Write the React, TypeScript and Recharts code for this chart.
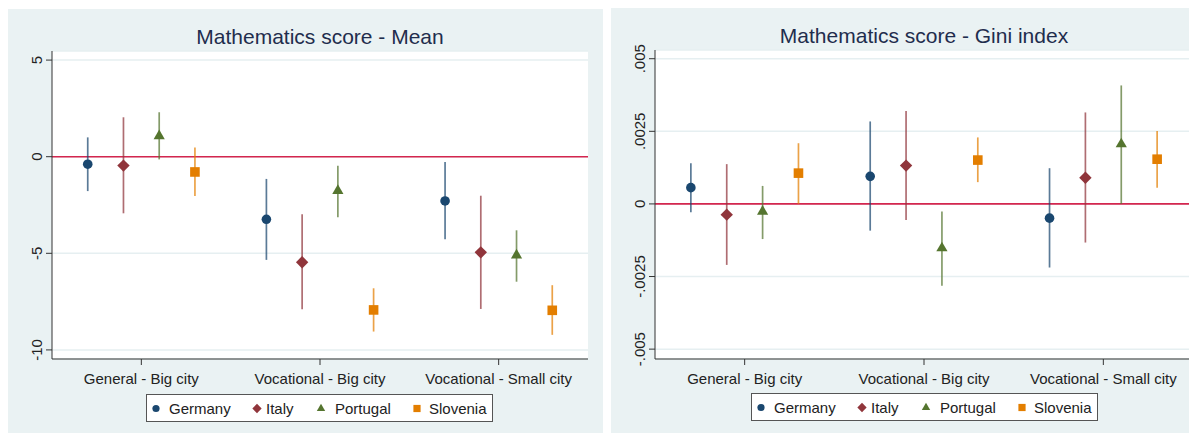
import React from 'react';
import {
  ScatterChart,
  Scatter,
  XAxis,
  YAxis,
  CartesianGrid,
  ReferenceLine,
  ErrorBar,
} from 'recharts';

const categories = ['General - Big city', 'Vocational - Big city', 'Vocational - Small city'];
const countries = ['Germany', 'Italy', 'Portugal', 'Slovenia'];
const colors = ['#1a476f', '#90353b', '#55752f', '#e37e00'];
const shapes = ['circle', 'diamond', 'triangle', 'square'];

// Mathematics score - Mean (point estimate, lower CI, upper CI), per country, per category
const meanEst = [
  [-0.39, -3.24, -2.29],
  [-0.46, -5.46, -4.95],
  [1.07, -1.76, -5.1],
  [-0.79, -7.93, -7.95],
];
const meanLo = [
  [-1.78, -5.34, -4.27],
  [-2.93, -7.9, -7.88],
  [-0.14, -3.14, -6.47],
  [-2.03, -9.05, -9.22],
];
const meanHi = [
  [1.0, -1.15, -0.27],
  [2.04, -2.98, -2.02],
  [2.3, -0.47, -3.81],
  [0.48, -6.81, -6.65],
];
const meanTicks = [-10, -5, 0, 5];

// Mathematics score - Gini index
const giniEst = [
  [0.00056, 0.00095, -0.00049],
  [-0.00037, 0.00132, 0.0009],
  [-0.00026, -0.00152, 0.00206],
  [0.00106, 0.00151, 0.00154],
];
const giniLo = [
  [-0.00029, -0.00092, -0.00219],
  [-0.0021, -0.00055, -0.00133],
  [-0.00121, -0.00282, 0.0],
  [0.0, 0.00075, 0.00056],
];
const giniHi = [
  [0.0014, 0.00284, 0.00123],
  [0.00137, 0.0032, 0.00315],
  [0.00062, -0.00026, 0.00408],
  [0.00209, 0.00229, 0.00251],
];
const giniTicks = [-0.005, -0.0025, 0, 0.0025, 0.005];

const FONT = '"Liberation Sans", Arial, sans-serif';
const BG = '#eaf2f3';
const DODGE = [-0.3, -0.1, 0.1, 0.3];

const Marker = ({ kind, cx, cy, color, s = 1 }: any) => {
  if (kind === 'circle') return <circle cx={cx} cy={cy} r={4.8 * s} fill={color} />;
  if (kind === 'diamond') {
    const d = 6.2 * s;
    return <path d={`M${cx},${cy - d}L${cx + d},${cy}L${cx},${cy + d}L${cx - d},${cy}Z`} fill={color} />;
  }
  if (kind === 'triangle') {
    const h = 6.4 * s;
    const w = 5.6 * s;
    return <path d={`M${cx},${cy - h}L${cx + w},${cy + h / 2}L${cx - w},${cy + h / 2}Z`} fill={color} />;
  }
  const q = 4.8 * s;
  return <rect x={cx - q} y={cy - q} width={2 * q} height={2 * q} fill={color} />;
};

const stataFmt = (v: number) => {
  if (v === 0) return '0';
  return String(v).replace('0.', '.');
};

const LegendBox = ({ left, top }: { left: number; top: number }) => {
  const markerX = [9, 110, 174, 270];
  const textX = [22, 119, 188, 282];
  return (
    <div
      style={{
        position: 'absolute',
        left,
        top,
        width: 345,
        height: 26,
        border: '1px solid #555',
        background: '#fff',
      }}
    >
      <svg width={345} height={26} style={{ display: 'block', fontFamily: FONT }}>
        {countries.map((c, k) => (
          <g key={c}>
            <Marker kind={shapes[k]} cx={markerX[k]} cy={13.5} color={colors[k]} s={0.75} />
            <text x={textX[k]} y={18.5} fontSize={15} fill="#222">
              {c}
            </text>
          </g>
        ))}
      </svg>
    </div>
  );
};

interface PanelProps {
  title: string;
  est: number[][];
  lo: number[][];
  hi: number[][];
  domain: number[];
  ticks: number[];
  left: number;
  top: number;
  width: number;
  height: number;
  rightPad: number;
  legendLeft: number;
}

const Panel = ({ title, est, lo, hi, domain, ticks, left, top, width, height, rightPad, legendLeft }: PanelProps) => {
  const plotLeft = 44;
  const plotRight = width - rightPad;
  const YTick = ({ x, y, payload }: any) => (
    <text
      x={x}
      y={y}
      transform={`rotate(-90 ${x} ${y})`}
      textAnchor="middle"
      fontSize={15}
      fill="#222"
    >
      {stataFmt(payload.value)}
    </text>
  );

  return (
    <div style={{ position: 'absolute', left, top, width, height, background: BG, fontFamily: FONT }}>
      <div
        style={{
          position: 'absolute',
          left: plotLeft,
          width: plotRight - plotLeft,
          top: 17,
          textAlign: 'center',
          fontSize: 21,
          lineHeight: '21px',
          color: '#1f2d4d',
          whiteSpace: 'nowrap',
        }}
      >
        {title}
      </div>
      <ScatterChart
        width={width}
        height={height}
        margin={{ top: 42, right: rightPad, bottom: 44, left: 0 }}
        style={{ fontFamily: FONT }}
      >
        <CartesianGrid horizontal vertical={false} fill="#ffffff" fillOpacity={1} stroke="#e6eff1" strokeWidth={1.5} />
        <XAxis
          type="number"
          dataKey="x"
          domain={[0.5, 3.5]}
          ticks={[1, 2, 3]}
          interval={0}
          height={30}
          tickFormatter={(v: number) => categories[Math.round(v) - 1]}
          tick={{ fill: '#222', fontSize: 15 }}
          tickSize={6}
          tickMargin={8}
          axisLine={{ stroke: '#333' }}
          tickLine={{ stroke: '#333' }}
        />
        <YAxis
          type="number"
          dataKey="y"
          domain={domain}
          ticks={ticks}
          interval={0}
          width={44}
          allowDataOverflow
          tick={<YTick />}
          tickSize={6}
          tickMargin={4}
          axisLine={{ stroke: '#333' }}
          tickLine={{ stroke: '#333' }}
        />
        <ReferenceLine y={0} stroke="#d4264f" strokeWidth={1.6} />
        {countries.map((c, k) => {
          const data = categories.map((cat, i) => ({
            x: i + 1 + DODGE[k],
            y: est[k][i],
            err: [est[k][i] - lo[k][i], hi[k][i] - est[k][i]],
          }));
          return (
            <Scatter
              key={c}
              name={c}
              data={data}
              isAnimationActive={false}
              shape={(p: any) => <Marker kind={shapes[k]} cx={p.cx} cy={p.cy} color={colors[k]} />}
            >
              <ErrorBar
                dataKey="err"
                direction="y"
                width={0}
                stroke={colors[k]}
                strokeOpacity={0.72}
                strokeWidth={1.7}
                isAnimationActive={false}
              />
            </Scatter>
          );
        })}
      </ScatterChart>
      <LegendBox left={legendLeft} top={385} />
    </div>
  );
};

export default function App() {
  return (
    <div style={{ position: 'relative', width: 1189, height: 426 }}>
      <Panel
        title="Mathematics score - Mean"
        est={meanEst}
        lo={meanLo}
        hi={meanHi}
        domain={[-10.47, 5.47]}
        ticks={meanTicks}
        left={0}
        top={1}
        width={595}
        height={424}
        rightPad={15}
        legendLeft={138}
      />
      <Panel
        title="Mathematics score - Gini index"
        est={giniEst}
        lo={giniLo}
        hi={giniHi}
        domain={[-0.00534, 0.0053]}
        ticks={giniTicks}
        left={603}
        top={0}
        width={586}
        height={425}
        rightPad={4}
        legendLeft={139.5}
      />
    </div>
  );
}
